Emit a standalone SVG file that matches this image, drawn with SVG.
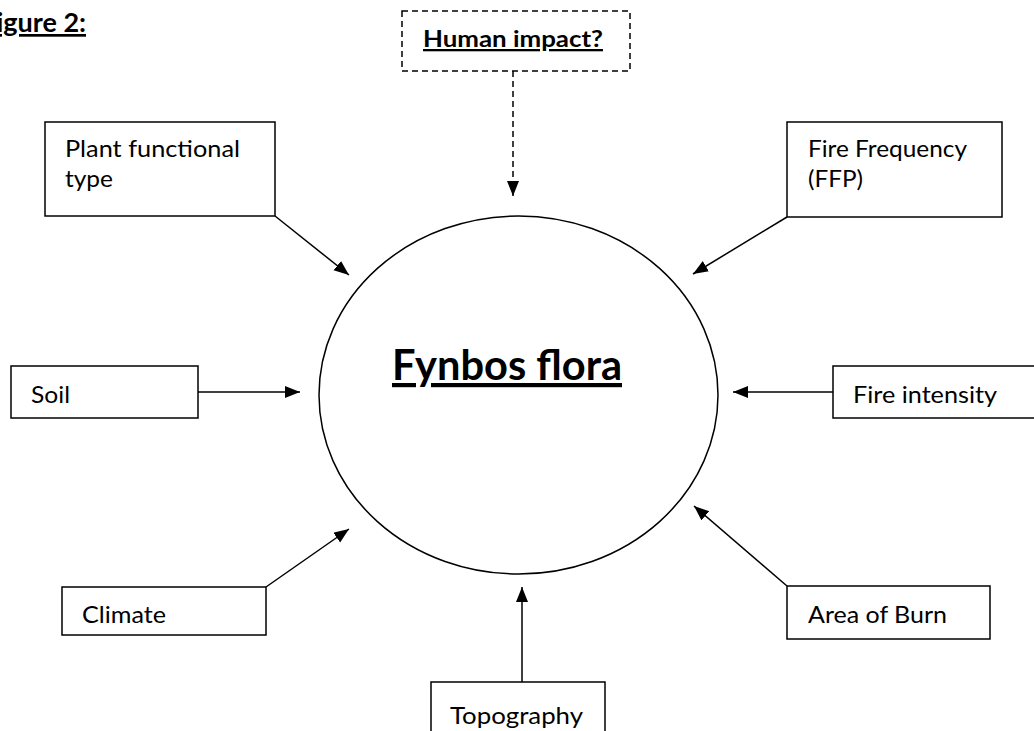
<svg xmlns="http://www.w3.org/2000/svg" width="1034" height="731" viewBox="0 0 1034 731">
<style>
.box{fill:#fff;stroke:#000;stroke-width:1.5}
.lbl{font-family:Lato,"Open Sans","Liberation Sans",sans-serif;font-size:24px;fill:#000}
.bold{font-weight:bold;text-decoration:underline}
.conn{stroke:#000;stroke-width:1.5;fill:none}
</style>
<defs>
<marker id="ah" markerUnits="userSpaceOnUse" markerWidth="16" markerHeight="14" refX="15" refY="6" orient="auto">
<path d="M0,0 L15,6 L0,12 Z" fill="#000"/>
</marker>
</defs>
<rect width="1034" height="731" fill="#fff"/>
<text class="lbl bold" x="86" y="32" text-anchor="end" style="font-size:27px">Figure 2:</text>
<g id="connectors">
<line class="conn" x1="513" y1="71" x2="513" y2="196" stroke-dasharray="6,4" marker-end="url(#ah)"/>
<line class="conn" x1="275" y1="216" x2="349" y2="275" marker-end="url(#ah)"/>
<line class="conn" x1="787" y1="217" x2="693" y2="274" marker-end="url(#ah)"/>
<line class="conn" x1="198" y1="392" x2="300" y2="392" marker-end="url(#ah)"/>
<line class="conn" x1="833" y1="392" x2="733" y2="392" marker-end="url(#ah)"/>
<line class="conn" x1="266" y1="587" x2="349" y2="529" marker-end="url(#ah)"/>
<line class="conn" x1="787" y1="586" x2="694" y2="506" marker-end="url(#ah)"/>
<line class="conn" x1="522" y1="682" x2="522" y2="587" marker-end="url(#ah)"/>
</g>
<g id="fynbos">
<ellipse cx="518.5" cy="395" rx="199.5" ry="179" fill="none" stroke="#000" stroke-width="1.5"/>
<text class="lbl bold" x="507" y="380" text-anchor="middle" style="font-size:42px" textLength="230" lengthAdjust="spacingAndGlyphs">Fynbos flora</text>
</g>
<g id="human">
<rect x="402" y="11" width="228" height="60" fill="#fff" stroke="#000" stroke-width="1.5" stroke-dasharray="6,4"/>
<text class="lbl bold" x="423" y="47" style="font-size:23px" textLength="180" lengthAdjust="spacingAndGlyphs">Human impact?</text>
</g>
<g id="plant">
<rect class="box" x="45" y="122" width="230" height="94"/>
<text class="lbl" x="65" y="157" textLength="175" lengthAdjust="spacingAndGlyphs">Plant functional</text>
<text class="lbl" x="65" y="187" textLength="48" lengthAdjust="spacingAndGlyphs">type</text>
</g>
<g id="firefreq">
<rect class="box" x="787" y="122" width="215" height="95"/>
<text class="lbl" x="808" y="157" textLength="159" lengthAdjust="spacingAndGlyphs">Fire Frequency</text>
<text class="lbl" x="808" y="187" textLength="55" lengthAdjust="spacingAndGlyphs">(FFP)</text>
</g>
<g id="soil">
<rect class="box" x="11" y="366" width="187" height="52"/>
<text class="lbl" x="31" y="403" textLength="39" lengthAdjust="spacingAndGlyphs">Soil</text>
</g>
<g id="fireint">
<rect class="box" x="833" y="366" width="210" height="52"/>
<text class="lbl" x="853" y="403" textLength="144" lengthAdjust="spacingAndGlyphs">Fire intensity</text>
</g>
<g id="climate">
<rect class="box" x="62" y="587" width="204" height="48"/>
<text class="lbl" x="82" y="623" textLength="84" lengthAdjust="spacingAndGlyphs">Climate</text>
</g>
<g id="burn">
<rect class="box" x="787" y="586" width="203" height="53"/>
<text class="lbl" x="808" y="623" textLength="139" lengthAdjust="spacingAndGlyphs">Area of Burn</text>
</g>
<g id="topo">
<rect class="box" x="431" y="682" width="174" height="60"/>
<text class="lbl" x="450" y="724" textLength="133" lengthAdjust="spacingAndGlyphs">Topography</text>
</g>
</svg>
